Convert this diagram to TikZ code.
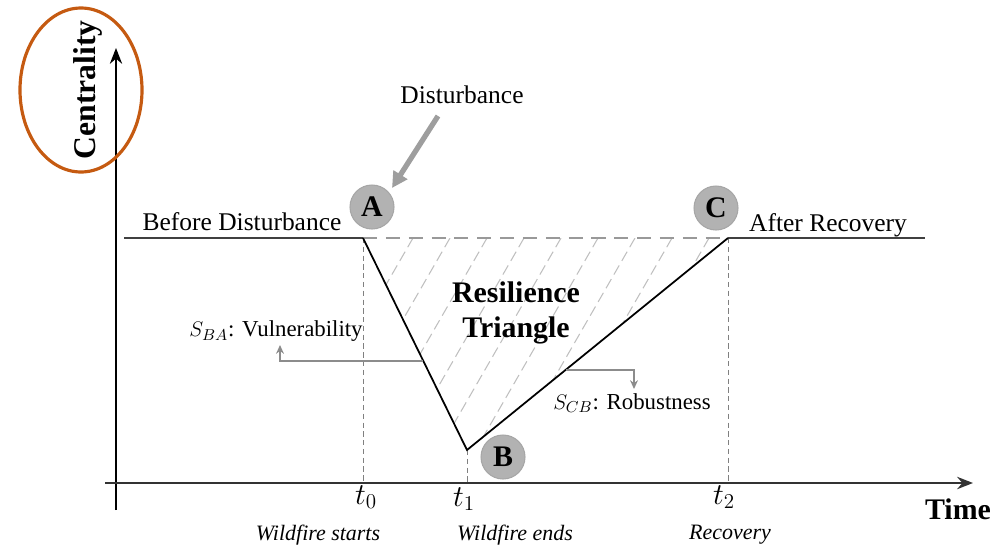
\documentclass[tikz,border=0pt]{standalone}
\usepackage{fontspec}
\setmainfont{Liberation Serif}
\usetikzlibrary{arrows.meta,calc}
\definecolor{orng}{HTML}{C55A11}
\begin{document}
\begin{tikzpicture}[x=0.2mm,y=-0.2mm,
  axisline/.style={line width=0.9pt,draw=black},
  baseline/.style={line width=1.3pt,draw=black!75},
  triline/.style={line width=1pt,draw=black},
  topdash/.style={line width=1.3pt,draw=black!40,dash pattern=on 8pt off 5pt},
  guide/.style={line width=0.5pt,draw=black!50,dash pattern=on 3pt off 2pt},
  hatch/.style={line width=0.6pt,draw=black!25,dash pattern=on 6pt off 3pt},
  ptnode/.style={circle,fill=black!30,draw=black!35,line width=0.6pt,minimum size=8.8mm,inner sep=0pt,font=\bfseries\fontsize{17}{17}\selectfont},
  callout/.style={line width=1pt,draw=black!45,-{Stealth[length=5pt,width=4.5pt]}},
  lbl/.style={inner sep=0pt,font=\fontsize{14.5}{17}\selectfont},
  boldlbl/.style={inner sep=0pt,font=\bfseries\fontsize{17}{20}\selectfont},
  smalllbl/.style={inner sep=0pt,font=\fontsize{13}{15}\selectfont},
  itlbl/.style={inner sep=0pt,font=\itshape\fontsize{12.5}{15}\selectfont},
  tlbl/.style={inner sep=0pt,font=\fontsize{17}{20}\selectfont}
]
\useasboundingbox (0,0) rectangle (1003,546);

% key points
\coordinate (A) at (363,238);
\coordinate (B) at (467,450);
\coordinate (C) at (728,238);
\coordinate (L) at (124,238);
\coordinate (R) at (925,238);
\coordinate (yb) at (116,510);
\coordinate (yt) at (116,48);
\coordinate (xl) at (105,483);
\coordinate (xr) at (973,483);
\coordinate (A0) at (363,483);
\coordinate (B0) at (467,483);
\coordinate (C0) at (728,483);

% hatching inside triangle
\begin{scope}
  \clip (A) -- (B) -- (C) -- cycle;
  \foreach \i in {0,...,8} {
    \draw[hatch] (413+37*\i,238) -- ++(-150,260);
  }
\end{scope}

% axes
\draw[axisline,-{Stealth[length=9pt,width=7pt]}] (yb) -- (yt);
\draw[axisline,draw=black!80,line width=1.3pt,-{Stealth[length=9pt,width=7pt]}] (xl) -- (xr);

% guides
\draw[guide] (A) -- (A0);
\draw[guide] (B) -- (B0);
\draw[guide] (C) -- (C0);

% curve
\draw[baseline] (L) -- (A);
\draw[baseline] (C) -- (R);
\draw[topdash] (A) -- (C);
\draw[triline,line join=miter] (A) -- (B) -- (C);

% point markers
\node[ptnode] (pA) at (372,207) {A};
\node[ptnode] (pB) at (503,457) {B};
\node[ptnode] (pC) at (716,208) {C};

% disturbance
\node[lbl] (dist) at (462,95) {Disturbance};
\coordinate (d1) at (438,116);
\coordinate (d2) at (392,188);
\draw[line width=3pt,draw=black!38,-{Triangle[length=9pt,width=9pt]}] (d1) -- (d2);

% labels
\node[lbl,anchor=base] (before) at (242,230) {Before Disturbance};
\node[lbl,anchor=base] (after) at (828,231) {After Recovery};
\node[boldlbl,align=center] (res) at (516,313) {Resilience\\Triangle};

% callouts
\node[smalllbl] (sba) at (276,331) {$S_{BA}$: Vulnerability};
\node[smalllbl] (scb) at (632,403) {$S_{CB}$: Robustness};
\coordinate (v0) at (423,361);
\coordinate (vt) at (280,345);
\coordinate (r0) at (566,370);
\coordinate (rt) at (634,389);
\draw[callout] (v0) -| (vt);
\draw[callout] (r0) -| (rt);

% axis labels
\node[boldlbl,rotate=90,font=\bfseries\fontsize{18}{20}\selectfont] (cent) at (88,90) {Centrality};
\node[boldlbl] (time) at (958,509) {Time};

% time labels
\node[tlbl] (t0) at (366,497) {$t_0$};
\node[tlbl] (t1) at (464,499) {$t_1$};
\node[tlbl] (t2) at (724,497) {$t_2$};
\node[itlbl] (ws) at (318,535) {Wildfire starts};
\node[itlbl] (we) at (515,535) {Wildfire ends};
\node[itlbl] (rec) at (730,535) {Recovery};

% highlight ellipse
\draw[orng,line width=1.8pt] (81,90) ellipse [x radius=12.2mm, y radius=16.4mm];
\end{tikzpicture}
\end{document}
